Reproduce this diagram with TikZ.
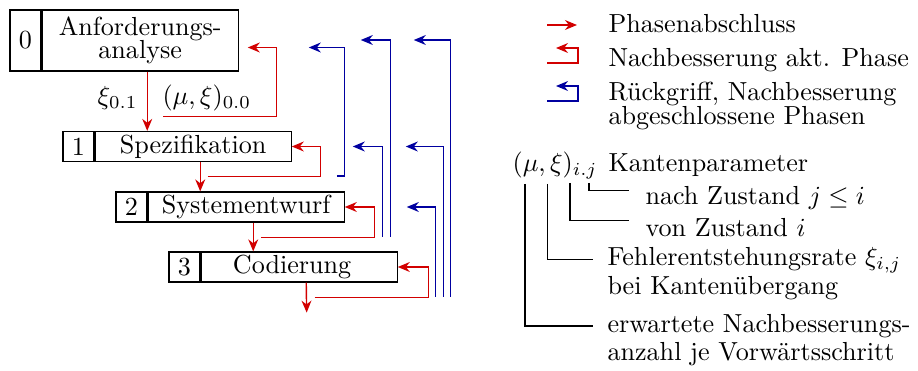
\documentclass[tikz,border=0pt]{standalone}
\usetikzlibrary{arrows.meta,calc}
\definecolor{myred}{RGB}{210,0,0}
\definecolor{myblue}{RGB}{0,0,160}
\begin{document}
\begin{tikzpicture}[x=0.383pt,y=-0.383pt,
  numcell/.style={draw,line width=0.45pt,minimum width=11.87pt,minimum height=11.5pt,inner sep=0pt},
  txtcell/.style={draw,line width=0.45pt,minimum width=75.07pt,minimum height=11.5pt,inner sep=0pt,align=center},
  tip/.style={-{Stealth[length=4.6pt,width=3.8pt,inset=1.5pt]}},
  fwd/.style={tip,draw=myred,line width=0.55pt},
  fix/.style={tip,draw=myred,line width=0.55pt},
  back/.style={tip,draw=myblue,line width=0.55pt},
  param/.style={draw=black,line width=0.45pt},
  lbl/.style={inner sep=0pt}]
\useasboundingbox (0,0) rectangle (918,371);

% phase boxes
\node[numcell,minimum height=23.36pt] (n0) at (25.5,40.5) {0};
\node[txtcell,minimum height=23.36pt,anchor=west] (t0) at (n0.east) {Anforderungs-\\[-3.2pt]analyse};
\node[numcell] (n1) at (78.5,146.5) {1};
\node[txtcell,anchor=west] (t1) at (n1.east) {Spezifikation};
\node[numcell] (n2) at (131.5,207) {2};
\node[txtcell,anchor=west] (t2) at (n2.east) {Systementwurf};
\node[numcell] (n3) at (184.5,267) {3};
\node[txtcell,anchor=west] (t3) at (n3.east) {Codierung\hspace{5.4pt}};

% edge labels
\node[lbl,anchor=base east] (x01) at (138,104.5) {$\xi_{0.1}$};
\node[lbl,anchor=base west] (m00) at (162,104.5) {$(\mu,\xi)_{0.0}$};

% forward arrows
\draw[fwd] ([xshift=2.7pt]t0.south) -- ([xshift=2.7pt]t0.south |- t1.north);
\draw[fwd] ([xshift=2.7pt]t1.south) -- ([xshift=2.7pt]t1.south |- t2.north);
\draw[fwd] ([xshift=2.7pt]t2.south) -- ([xshift=2.7pt]t2.south |- t3.north);
\coordinate (end3) at ($(t3.south)+(7.5,30)$);
\draw[fwd] ([xshift=2.7pt]t3.south) -- (end3);

% rework current phase
\draw[fix] ($(t0.south)+(23,45)$) -| ($(t0.east)+(38,7)$) -- ($(t0.east)+(9,7)$);
\draw[fix] ($(t1.south)+(14.5,14.5)$) -| ($(t1.east)+(29,0)$) -- (t1.east);
\draw[fix] ($(t2.south)+(15,15)$) -| ($(t2.east)+(30,0)$) -- (t2.east);
\draw[fix] ($(t3.south)+(15.5,15)$) -| ($(t3.east)+(31,0)$) -- (t3.east);

% returns to finished phases
\draw[back] ($(t1.east)+(45,29.5)$) -| ($(t0.east)+(106,7)$) -- ($(t0.east)+(70,7)$);
\draw[back] ($(t2.east)+(38,30)$) |- ($(t1.east)+(61,0)$);
\draw[back] ($(t2.east)+(46,30)$) |- ($(t0.east)+(122,-0.5)$);
\draw[back] ($(t3.east)+(38,30)$) |- ($(t2.east)+(62,0)$);
\draw[back] ($(t3.east)+(46,30)$) |- ($(t1.east)+(114,0)$);
\draw[back] ($(t3.east)+(53,30)$) |- ($(t0.east)+(175,-0.5)$);

% legend
\coordinate (la1) at (547,25); \coordinate (lb1) at (577,25);
\draw[fwd] (la1) -- (lb1);
\coordinate (la2) at (547,63); \coordinate (lb2) at (578,48); \coordinate (lc2) at (556,48);
\draw[fix] (la2) -| (lb2) -- (lc2);
\coordinate (la3) at (547,101); \coordinate (lb3) at (578,86); \coordinate (lc3) at (556,86);
\draw[back] (la3) -| (lb3) -- (lc3);
\node[lbl,anchor=base west] (g1) at (608,33) {Phasenabschluss};
\node[lbl,anchor=base west] (g2) at (608,67) {Nachbesserung akt. Phase};
\node[lbl,anchor=base west] (g3) at (608,100.5) {Rückgriff, Nachbesserung};
\node[lbl,anchor=base west] (g4) at (608,124.5) {abgeschlossene Phasen};

% parameter explanation
\node[lbl,anchor=base east] (m) at (598,172) {$(\mu,\xi)_{i.j}$};
\node[lbl,anchor=base west] (k0) at (608,172) {Kantenparameter};
\node[lbl,anchor=base west] (k1) at (645,205) {nach Zustand $j\le i$};
\node[lbl,anchor=base west] (k2) at (645,236.5) {von Zustand $i$};
\node[lbl,anchor=base west] (k3) at (607,266) {Fehlerentstehungsrate $\xi_{i,j}$};
\node[lbl,anchor=base west] (k4) at (607,295) {bei Kantenübergang};
\node[lbl,anchor=base west] (k5) at (607,333) {erwartete Nachbesserungs-};
\node[lbl,anchor=base west] (k6) at (607,361) {anzahl je Vorwärtsschritt};

\draw[param] ($(m.base east)+(-9,11)$) |- ($(k1.base west)+(-16,-14.3)$);
\draw[param] ($(m.base east)+(-28,11)$) |- ($(k2.base west)+(-16,-15.8)$);
\draw[param] ($(m.base east)+(-50.5,12)$) |- ($(k3.base west)+(-14,-6.7)$);
\draw[param] ($(m.base east)+(-73,12)$) |- ($(k5.base west)+(-14,-7)$);
\end{tikzpicture}
\end{document}
